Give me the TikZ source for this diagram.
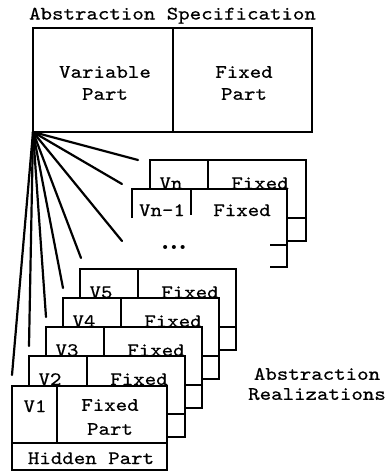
\documentclass[tikz,border=0pt]{standalone}
\usepackage{fontspec}
\setmonofont{lmmono10-regular.otf}[FakeStretch=1.15, FakeBold=0.6]
\begin{document}
\begin{tikzpicture}[x=1pt,y=-1pt,
  frame/.style={draw, line width=1.8pt, fill=white, inner sep=0pt, outer sep=0pt, anchor=north west},
  blank/.style={fill=white, inner sep=0pt, outer sep=0pt, anchor=north west},
  part/.style={line width=1.8pt},
  ray/.style={line width=2.2pt, line cap=round},
  lbl/.style={font=\ttfamily\fontsize{19}{22}\selectfont, inner sep=0pt},
]
\useasboundingbox (0,0) rectangle (388,472);

% a realization card seen from behind: name, left, top, variable label
\newcommand\backcard[4]{%
  \node[frame, minimum width=156pt, minimum height=81pt] (#1) at (#2,#3) {};
  \draw[part] (#2+58,#3) -- (#2+58,#3+58);
  \draw[part] (#2,#3+58) -- (#2+156,#3+58);
  \node[lbl, anchor=base] (#1v) at (#2+21,#3+29) {#4};
  \node[lbl, anchor=base] (#1f) at (#2+110,#3+29) {Fixed};
}

% abstraction specification
\node[lbl, anchor=base] (title) at (172.5,19.5) {Abstraction Specification};
\node[frame, minimum width=140pt, minimum height=104pt] (var) at (33,28) {};
\node[frame, minimum width=139pt, minimum height=104pt] (fix) at (173,28) {};
\node[lbl, align=center] (varlbl) at (105,83) {Variable\\Part};
\node[lbl, align=center] (fixlbl) at (244,83) {Fixed\\Part};

% free ends of the rays
\coordinate (e1) at (138,160);
\coordinate (e2) at (122,184);
\coordinate (e3) at (122,241);
\coordinate (e4) at (81,258);
\coordinate (e5) at (63,288);
\coordinate (e6) at (46,317);
\coordinate (e7) at (29,346);
\coordinate (e8) at (12,375);
\foreach \e in {e1,e2,e3,e4,e5,e6,e7,e8}
  \draw[ray] (var.south west) -- (\e);

% upper group: Vn and Vn-1
\backcard{bn}{150}{160}{Vn}
\node[blank, minimum width=155pt, minimum height=78pt] (bnm) at (132,189) {};
\draw[part] (132,218) -- (132,189) -- (287,189) -- (287,267) -- (270,267);
\draw[part] (191,189) -- (191,215);
\draw[part] (270,245) -- (287,245);
\node[lbl, anchor=base] (bnmv) at (162,216) {Vn-1};
\node[lbl, anchor=base] (bnmf) at (242,216) {Fixed};
\node[inner sep=0pt, font=\rmfamily\bfseries\fontsize{28}{28}\selectfont] (dots) at (174,247) {...};

% lower stack of realizations
\backcard{b5}{80}{269}{V5}
\backcard{b4}{63}{298}{V4}
\backcard{b3}{46}{327}{V3}
\backcard{b2}{29}{356}{V2}

% front realization
\node[frame, minimum width=155pt, minimum height=84pt] (b1) at (12,386) {};
\draw[part] (57,386) -- (57,443);
\draw[part] (12,443) -- (167,443);
\node[lbl, anchor=base] (b1v) at (35,412) {V1};
\node[lbl, align=center, font=\ttfamily\fontsize{19}{24}\selectfont] (b1f) at (110,417) {Fixed\\Part};
\node[lbl, anchor=base] (b1h) at (91,464) {Hidden Part};

\node[lbl, align=center, font=\ttfamily\fontsize{19}{20}\selectfont] (real) at (317,384) {Abstraction\\Realizations};
\end{tikzpicture}
\end{document}
